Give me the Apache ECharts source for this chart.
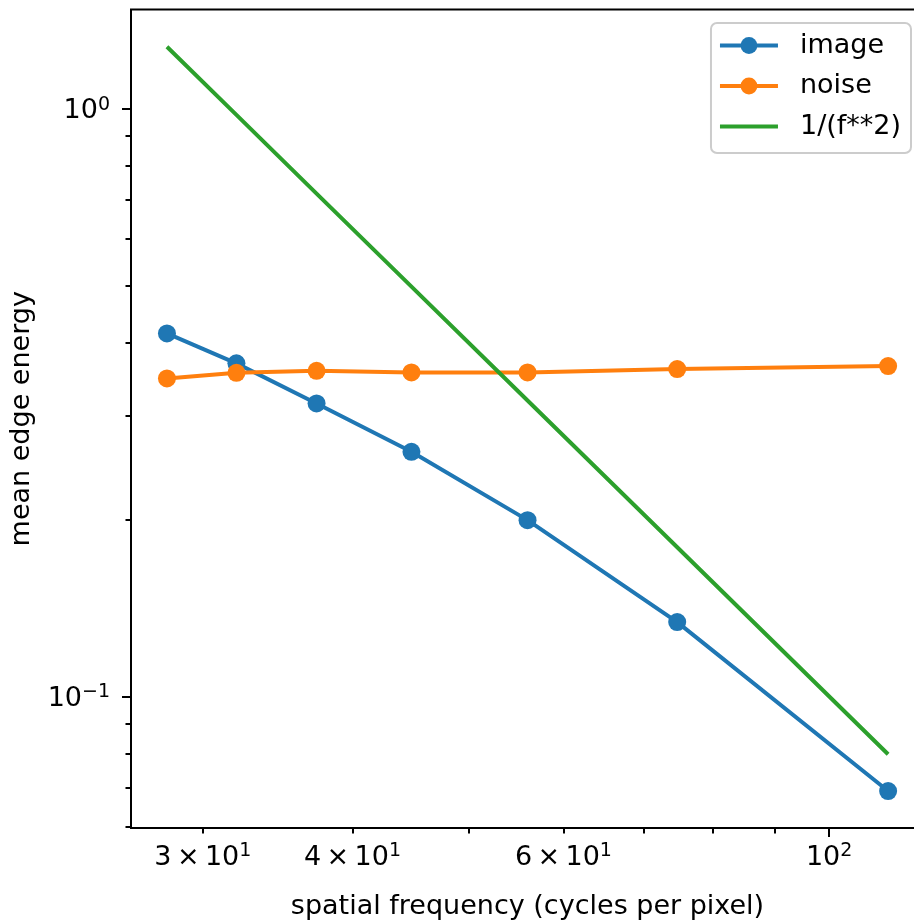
<!DOCTYPE html>
<html>
<head>
<meta charset="utf-8">
<script src="https://cdn.jsdelivr.net/npm/echarts@6/dist/echarts.min.js"></script>
<style>
html, body { margin: 0; padding: 0; background: #fff; }
#chart { width: 914px; height: 920px; }
</style>
</head>
<body>
<div id="chart"></div>
<script>
// Spatial frequencies (cycles per pixel)
const frequencies = [28, 32, 37.33, 44.8, 56, 74.67, 112];
// Mean edge energy per frequency band
const imageEnergy = [0.4148, 0.3688, 0.3152, 0.2608, 0.1995, 0.1338, 0.0690];
const noiseEnergy = [0.3477, 0.3554, 0.3582, 0.3559, 0.3559, 0.3606, 0.3649];
// Reference power law 1/(f**2), scaled
const inverseSquare = [1.2755, 0.9766, 0.7175, 0.4982, 0.3189, 0.1794, 0.0797];

const seriesNames = ['image', 'noise', '1/(f**2)'];

// Tick labels: mantissa part and exponent
const xTickValues = [30, 40, 60, 100];
const xTickBase = ['3\u2009×\u200910', '4\u2009×\u200910', '6\u2009×\u200910', '10'];
const xTickExp = ['1', '1', '1', '2'];
const xMajorTicks = [100];
const xMinorTicks = [30, 40, 50, 60, 70, 80, 90];

const yTickValues = [0.1, 1];
const yTickBase = ['10', '10'];
const yTickExp = ['\u22121', '0'];
const yMajorTicks = [0.1, 1];
const yMinorTicks = [0.06, 0.07, 0.08, 0.09, 0.2, 0.3, 0.4, 0.5, 0.6, 0.7, 0.8, 0.9];

const FONT = 'DejaVu Sans';
const BLUE = '#1f77b4', ORANGE = '#ff7f0e', GREEN = '#2ca02c';

const X_MIN = 26.13, X_MAX = 120.0;
const Y_MIN = 0.0597, Y_MAX = 1.476;

function pairs(xs, ys) {
  return xs.map((x, i) => [x, ys[i]]);
}

function tickFormatter(values, bases, exps) {
  return function (v) {
    for (let i = 0; i < values.length; i++) {
      if (Math.abs(v - values[i]) <= 1e-6 * values[i]) {
        return '{b|' + bases[i] + '}{s|' + exps[i] + '}';
      }
    }
    return '';
  };
}

const richTick = {
  b: { fontFamily: FONT, fontSize: 27, lineHeight: 27, color: '#000', padding: [5, 0, 0, 0] },
  s: { fontFamily: FONT, fontSize: 19, lineHeight: 19, color: '#000', verticalAlign: 'top' }
};

const tickStyle = { color: '#000', width: 2 };

const chart = echarts.init(document.getElementById('chart'), null, { renderer: 'canvas' });

chart.setOption({
  animation: false,
  backgroundColor: '#fff',
  grid: {
    left: 131, top: 9.5, width: 793, height: 818.5,
    outerBoundsMode: 'none', containLabel: false,
    show: true, borderColor: '#000', borderWidth: 2, backgroundColor: 'transparent'
  },
  xAxis: [
    {
      type: 'log', logBase: 10, min: X_MIN, max: X_MAX, position: 'bottom',
      name: 'spatial frequency (cycles per pixel)', nameLocation: 'middle', nameGap: 65,
      nameTextStyle: { fontFamily: FONT, fontSize: 27, color: '#000', lineHeight: 27 },
      axisLine: { show: false },
      axisTick: { show: true, length: 9, lineStyle: tickStyle, customValues: xMajorTicks },
      axisLabel: {
        show: true, margin: 13.5, customValues: xTickValues,
        formatter: tickFormatter(xTickValues, xTickBase, xTickExp), rich: richTick
      },
      splitLine: { show: false }, minorTick: { show: false }
    },
    {
      type: 'log', logBase: 10, min: X_MIN, max: X_MAX, position: 'bottom',
      axisLine: { show: false },
      axisTick: { show: true, length: 5.5, lineStyle: tickStyle, customValues: xMinorTicks },
      axisLabel: { show: false },
      splitLine: { show: false }
    }
  ],
  yAxis: [
    {
      type: 'log', logBase: 10, min: Y_MIN, max: Y_MAX, position: 'left',
      name: 'mean edge energy', nameLocation: 'middle', nameGap: 96, nameRotate: 90,
      nameTextStyle: { fontFamily: FONT, fontSize: 27, color: '#000', lineHeight: 27 },
      axisLine: { show: false },
      axisTick: { show: true, length: 9, lineStyle: tickStyle, customValues: yMajorTicks },
      axisLabel: {
        show: true, margin: 21, customValues: yTickValues,
        formatter: tickFormatter(yTickValues, yTickBase, yTickExp), rich: richTick
      },
      splitLine: { show: false }
    },
    {
      type: 'log', logBase: 10, min: Y_MIN, max: Y_MAX, position: 'left',
      axisLine: { show: false },
      axisTick: { show: true, length: 5.5, lineStyle: tickStyle, customValues: yMinorTicks },
      axisLabel: { show: false },
      splitLine: { show: false }
    }
  ],
  legend: {
    orient: 'vertical', right: 3, top: 23,
    padding: [9, 10, 13, 7], itemGap: 13.5,
    itemWidth: 58, itemHeight: 21,
    backgroundColor: 'rgba(255,255,255,0.8)',
    borderColor: '#cccccc', borderWidth: 2, borderRadius: 6,
    lineStyle: { width: 4 },
    textStyle: { fontFamily: FONT, fontSize: 27, lineHeight: 27, color: '#000', padding: [0, 0, 0, 17] },
    data: [
      { name: seriesNames[0] },
      { name: seriesNames[1] },
      { name: seriesNames[2], itemStyle: { opacity: 0 } }
    ]
  },
  series: [
    {
      name: seriesNames[0], type: 'line', xAxisIndex: 0, yAxisIndex: 0,
      data: pairs(frequencies, imageEnergy),
      symbol: 'circle', symbolSize: 18,
      lineStyle: { color: BLUE, width: 4 }, itemStyle: { color: BLUE }
    },
    {
      name: seriesNames[1], type: 'line', xAxisIndex: 0, yAxisIndex: 0,
      data: pairs(frequencies, noiseEnergy),
      symbol: 'circle', symbolSize: 18,
      lineStyle: { color: ORANGE, width: 4 }, itemStyle: { color: ORANGE }
    },
    {
      name: seriesNames[2], type: 'line', xAxisIndex: 0, yAxisIndex: 0,
      data: pairs(frequencies, inverseSquare),
      symbol: 'none',
      lineStyle: { color: GREEN, width: 4 }, itemStyle: { color: GREEN }
    }
  ]
});
</script>
</body>
</html>
